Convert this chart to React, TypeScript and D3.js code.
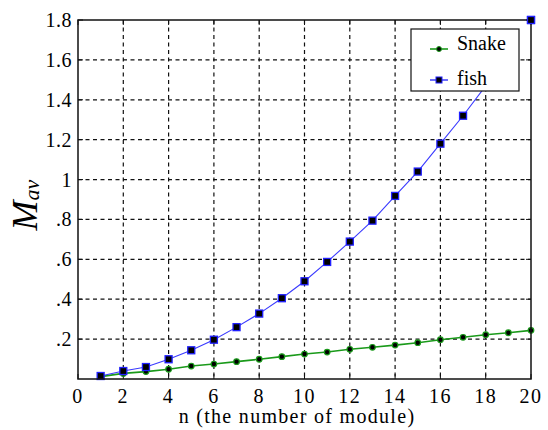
import React from "react";
import * as d3 from "d3";

const nValues = [1, 2, 3, 4, 5, 6, 7, 8, 9, 10, 11, 12, 13, 14, 15, 16, 17, 18, 19, 20];
const snakeValues: (number | null)[] = [0.012, 0.028, 0.037, 0.049, 0.065, 0.075, 0.087, 0.099, 0.112, 0.125, 0.135, 0.149, 0.159, 0.17, 0.182, 0.197, 0.209, 0.222, 0.232, 0.244];
const fishValues: (number | null)[] = [0.015, 0.04, 0.06, 0.099, 0.144, 0.197, 0.26, 0.328, 0.405, 0.49, 0.587, 0.689, 0.794, 0.918, 1.04, 1.18, 1.32, 1.47, null, 1.8];
const xTicks = [0, 2, 4, 6, 8, 10, 12, 14, 16, 18, 20];
const yTicks = [0.2, 0.4, 0.6, 0.8, 1, 1.2, 1.4, 1.6, 1.8];
const yTickLabels = [".2", ".4", ".6", ".8", "1", "1.2", "1.4", "1.6", "1.8"];
const seriesNames = ["Snake", "fish"];

const W = 548, H = 430;
const left = 78, right = 531, top = 20, bottom = 379;
const FONT = "Liberation Serif, serif";

export default function App() {
  const x = d3.scaleLinear().domain([0, 20]).range([left, right]);
  const y = d3.scaleLinear().domain([0, 1.8]).range([bottom, top]);

  const mk = (vals: (number | null)[]) =>
    d3.line<number>()
      .defined((_, i) => vals[i] != null)
      .x((_, i) => x(nValues[i]))
      .y((_, i) => y(vals[i] as number))(nValues) || "";

  const tickLen = 5;

  return (
    <svg width={W} height={H} style={{ position: "absolute", left: 0, top: 0, background: "#fff" }}>
      <rect x={0} y={0} width={W} height={H} fill="#fff" />
      {xTicks.filter(t => t > 0 && t < 20).map(t => (
        <line key={"gx" + t} x1={x(t)} x2={x(t)} y1={top} y2={bottom} stroke="#111" strokeWidth={1.2} strokeDasharray="4,3.5" />
      ))}
      {yTicks.filter(t => t < 1.8).map(t => (
        <line key={"gy" + t} x1={left} x2={right} y1={y(t)} y2={y(t)} stroke="#111" strokeWidth={1.2} strokeDasharray="4,3.5" />
      ))}
      {xTicks.map(t => (
        <g key={"tx" + t}>
          <line x1={x(t)} x2={x(t)} y1={bottom} y2={bottom - tickLen} stroke="#111" strokeWidth={1} />
          <line x1={x(t)} x2={x(t)} y1={top} y2={top + tickLen} stroke="#111" strokeWidth={1} />
        </g>
      ))}
      {yTicks.map(t => (
        <g key={"ty" + t}>
          <line x1={left} x2={left + tickLen} y1={y(t)} y2={y(t)} stroke="#111" strokeWidth={1} />
          <line x1={right} x2={right - tickLen} y1={y(t)} y2={y(t)} stroke="#111" strokeWidth={1} />
        </g>
      ))}
      <path d={mk(snakeValues)} fill="none" stroke="#1a9a1a" strokeWidth={1.6} />
      <path d={mk(fishValues)} fill="none" stroke="#3a3aff" strokeWidth={1.1} />
      {nValues.map((n, i) => snakeValues[i] != null && (
        <circle key={"sm" + n} cx={x(n)} cy={y(snakeValues[i] as number)} r={2.8} fill="#000" stroke="#1a9a1a" strokeWidth={1.2} />
      ))}
      {nValues.map((n, i) => fishValues[i] != null && (
        <rect key={"fm" + n} x={x(n) - 3.5} y={y(fishValues[i] as number) - 3.5} width={7} height={7} fill="#000" stroke="#2020ff" strokeWidth={1.3} />
      ))}
      <rect x={411} y={29} width={108} height={62} fill="#fff" stroke="#111" strokeWidth={1.2} />
      <line x1={430} x2={448} y1={49} y2={49} stroke="#1a9a1a" strokeWidth={1.6} />
      <circle cx={439} cy={49} r={2.5} fill="#000" stroke="#1a9a1a" strokeWidth={1} />
      <text x={457} y={50} fontFamily={FONT} fontSize={20} fill="#000">{seriesNames[0]}</text>
      <line x1={430} x2={448} y1={80} y2={80} stroke="#2020ff" strokeWidth={1.3} />
      <rect x={436} y={77} width={6} height={6} fill="#000" stroke="#2020ff" strokeWidth={1} />
      <text x={457} y={85} fontFamily={FONT} fontSize={20} fill="#000">{seriesNames[1]}</text>
      <rect x={left} y={top} width={right - left} height={bottom - top} fill="none" stroke="#111" strokeWidth={1.5} />
      {nValues.map((n, i) => i === nValues.length - 1 && fishValues[i] != null && (
        <rect key={"fc" + n} x={x(n) - 3.5} y={y(fishValues[i] as number) - 3.5} width={7} height={7} fill="#000" stroke="#2020ff" strokeWidth={1.3} />
      ))}
      {xTicks.map(t => (
        <text key={"xl" + t} x={x(t)} y={403} textAnchor="middle" fontFamily={FONT} fontSize={20} letterSpacing={1.5} fill="#000">{t}</text>
      ))}
      {yTicks.map((t, i) => (
        <text key={"yl" + t} x={72} y={y(t) + 7} textAnchor="end" fontFamily={FONT} fontSize={20} letterSpacing={0.5} fill="#000">{yTickLabels[i]}</text>
      ))}
      <text x={297} y={423} textAnchor="middle" fontFamily={FONT} fontSize={20} letterSpacing={1.3} fill="#000">n (the number of module)</text>
      <text transform="translate(37,205) rotate(-90)" textAnchor="middle" fontFamily={FONT} fontStyle="italic" fill="#000">
        <tspan fontSize={36}>M</tspan>
        <tspan fontSize={22} dy={2}>av</tspan>
      </text>
    </svg>
  );
}
